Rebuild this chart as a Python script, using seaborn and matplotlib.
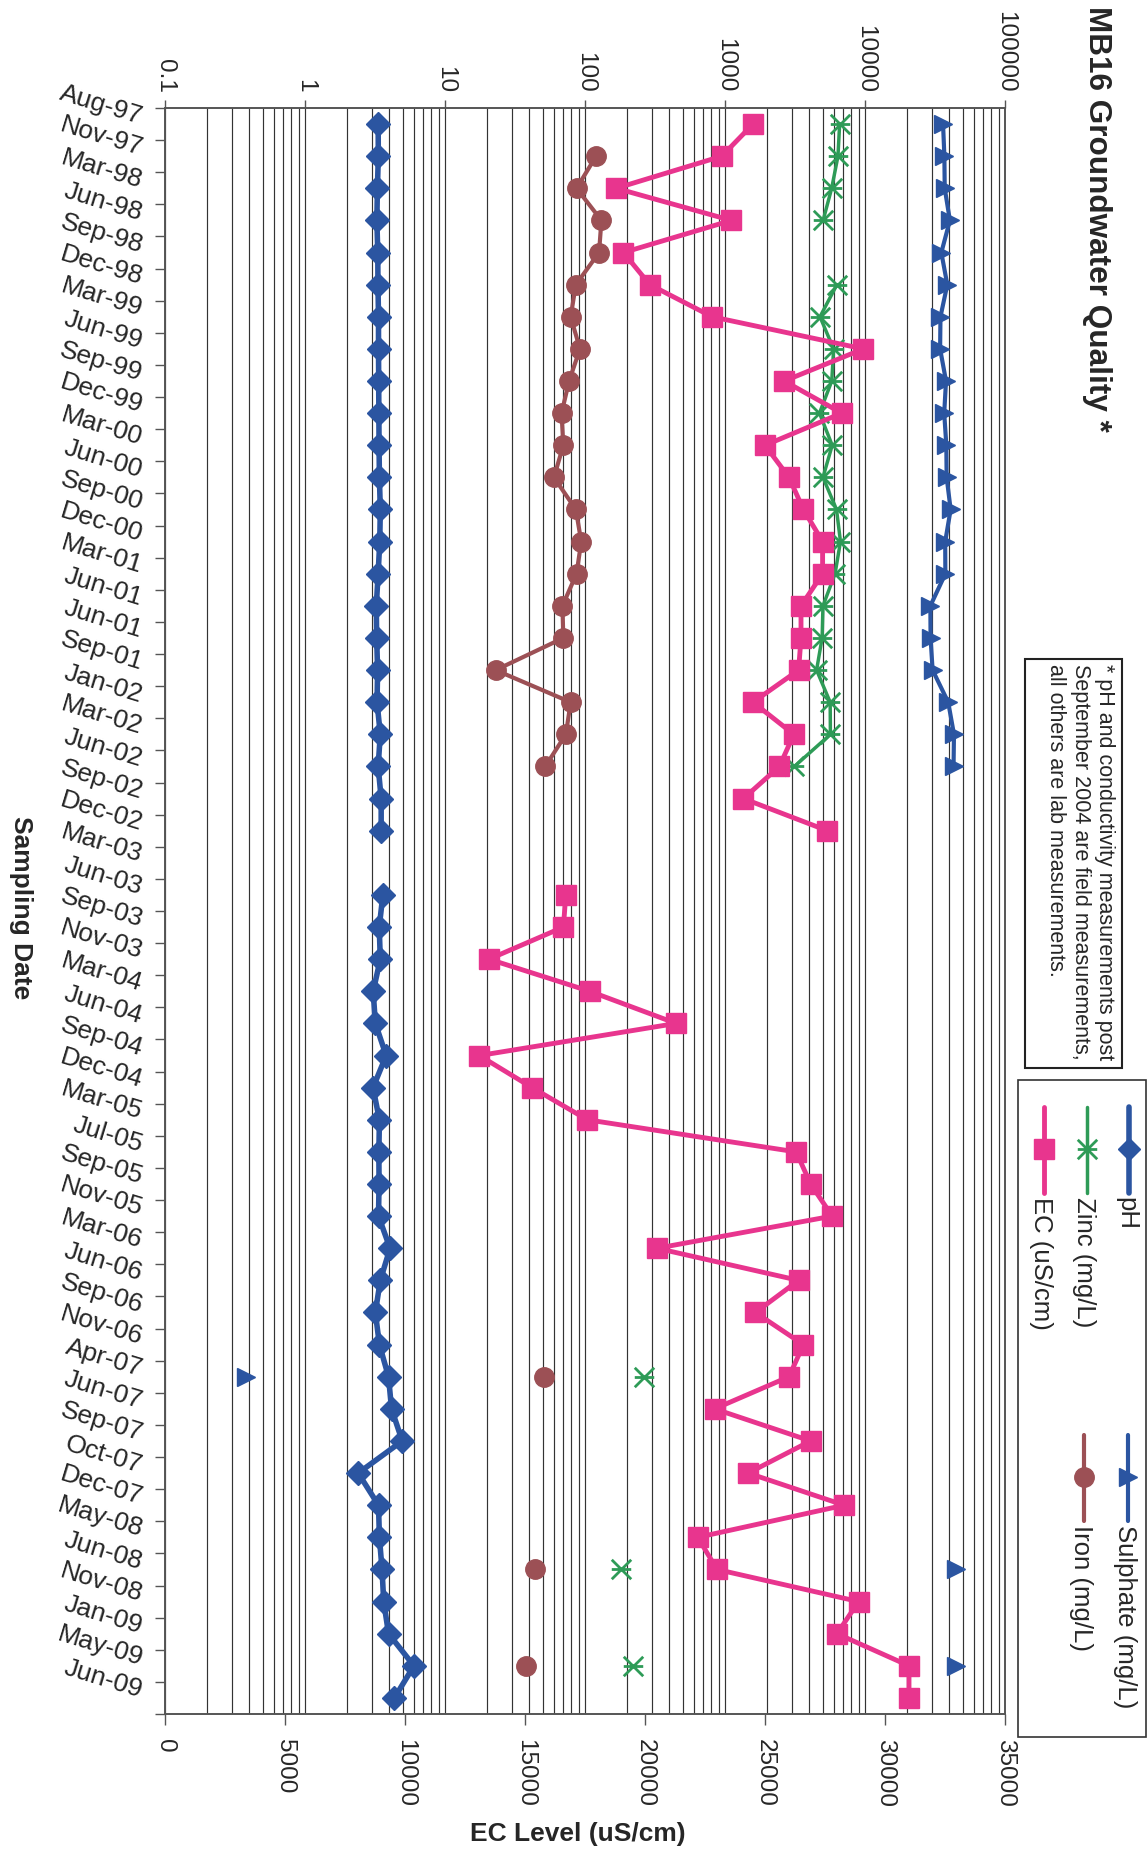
import numpy as np
import pandas as pd
import matplotlib
matplotlib.use("Agg")
import matplotlib.pyplot as plt
import seaborn as sns
from matplotlib.path import Path
from matplotlib.ticker import FixedLocator, FixedFormatter, LogLocator, NullFormatter
from matplotlib.patches import Rectangle

nan = np.nan

sampling_dates = ["Aug-97", "Nov-97", "Mar-98", "Jun-98", "Sep-98", "Dec-98", "Mar-99", "Jun-99",
                  "Sep-99", "Dec-99", "Mar-00", "Jun-00", "Sep-00", "Dec-00", "Mar-01", "Jun-01",
                  "Jun-01", "Sep-01", "Jan-02", "Mar-02", "Jun-02", "Sep-02", "Dec-02", "Mar-03",
                  "Jun-03", "Sep-03", "Nov-03", "Mar-04", "Jun-04", "Sep-04", "Dec-04", "Mar-05",
                  "Jul-05", "Sep-05", "Nov-05", "Mar-06", "Jun-06", "Sep-06", "Nov-06", "Apr-07",
                  "Jun-07", "Sep-07", "Oct-07", "Dec-07", "May-08", "Jun-08", "Nov-08", "Jan-09",
                  "May-09", "Jun-09"]

ph = [3.33, 3.34, 3.29, 3.26, 3.31, 3.32, 3.35, 3.35, 3.36, 3.37, 3.38, 3.40, 3.45, 3.42,
      3.33, 3.23, 3.25, 3.30, 3.27, 3.45, 3.33, 3.50, 3.50, nan, 3.60, 3.39, 3.45, 3.07,
      3.18, 3.80, 3.06, 3.40, 3.37, 3.38, 3.35, 4.05, 3.45, 3.18, 3.40, 3.95, 4.15, 4.95,
      2.40, 3.35, 3.40, 3.55, 3.65, 3.95, 6.0, 4.35]

zinc = [6590, 6410, 5780, 5020, nan, 6300, 4770, 5970, 5790, 4730, 5830, 5010, 6260, 6680,
        6110, 5010, 4940, 4510, 5640, 5660, 3130, nan, nan, nan, nan, nan, nan, nan,
        nan, nan, nan, nan, nan, nan, nan, nan, nan, nan, nan, 265, nan, nan,
        nan, nan, nan, 180, nan, nan, 220, nan]

ec = [24500, 23200, 18800, 23600, 19100, 20200, 22800, 29100, 25800, 28200, 25000, 26000,
      26600, 27400, 27400, 26500, 26500, 26400, 24500, 26200, 25600, 24100, 27600, nan,
      16700, 16600, 13500, 17700, 21300, 13100, 15300, 17600, 26300, 26900, 27800, 20500,
      26400, 24600, 26600, 26000, 22900, 26900, 24300, 28300, 22200, 23000, 28900, 28000,
      31000, 31000]

sulphate = [36100, 36900, 37100, 40400, 35100, 38700, 34600, 34400, 37900, 36800, 38100,
            38300, 40900, 37400, 37500, 29300, 29400, 30400, 39300, 43200, 42900, nan, nan,
            nan, nan, nan, nan, nan, nan, nan, nan, nan, nan, nan, nan, nan, nan, nan, nan,
            0.38, nan, nan, nan, nan, nan, 45000, nan, nan, 45000, nan]

iron = [nan, 120, 87, 131, 126, 86, 79, 92, 77, 68, 70, 60, 86, 94, 87, 69, 70, 23, 79, 73,
        52, nan, nan, nan, nan, nan, nan, nan, nan, nan, nan, nan, nan, nan, nan, nan, nan,
        nan, nan, 51, nan, nan, nan, nan, nan, 44, nan, nan, 38, nan]

log_ticks = [0.1, 1, 10, 100, 1000, 10000, 100000]
log_tick_labels = ["0.1", "1", "10", "100", "1000", "10000", "100000"]
ec_ticks = [0, 5000, 10000, 15000, 20000, 25000, 30000, 35000]

BLUE = "#2B55A1"
GREEN = "#2E9B57"
BROWN = "#9C5055"
PINK = "#E8358E"
GRID = "#333333"
FRAME = "#555555"

sns.set_theme(style="white")
plt.rcParams["font.family"] = ["Liberation Sans", "DejaVu Sans"]

W, H = 1148, 1853
fig = plt.figure(figsize=(W / 100, H / 100), dpi=100)
fig.patch.set_facecolor("white")

L, R, T, B = 165, 1005, 108, 1714
ax = fig.add_axes([L / W, 1 - B / H, (R - L) / W, (B - T) / H])
ax.set_xscale("log")
ax.set_xlim(0.1, 1e5)
ax2 = ax.twiny()
ax2.set_xlim(0, 35000)

asterisk = Path([(-1, -1), (1, 1), (-1, 1), (1, -1), (-1, 0), (1, 0)],
                [Path.MOVETO, Path.LINETO] * 3)


def segments(values):
    df = pd.DataFrame({"pos": np.arange(len(values)), "value": values})
    valid = df["value"].notna()
    df["seg"] = (valid != valid.shift()).cumsum()
    return df[valid]


def draw(axis, values, color, marker, ms, lw, mew=1.0):
    df = segments(values)
    sns.lineplot(data=df, x="value", y="pos", units="seg", estimator=None, sort=False,
                 orient="y", color=color, marker=marker, markersize=ms, linewidth=lw,
                 markeredgecolor=color, markerfacecolor=color, markeredgewidth=mew,
                 ax=axis, legend=False)


draw(ax, ph, BLUE, "D", 12.5, 4.0)
draw(ax, zinc, GREEN, asterisk, 14, 2.5, mew=2.0)
draw(ax, sulphate, BLUE, ">", 13, 3.0)
draw(ax, iron, BROWN, "o", 14, 3.0)
draw(ax2, ec, PINK, "s", 15, 3.5)

for a in (ax, ax2):
    a.set_xlabel("")
    a.set_ylabel("")

ax.set_xlim(0.1, 1e5)
ax2.set_xlim(0, 35000)
ax.set_ylim(len(sampling_dates) - 0.5, -0.5)

# log axis on top
ax.xaxis.tick_top()
ax.xaxis.set_label_position("top")
ax.xaxis.set_major_locator(FixedLocator(log_ticks))
ax.xaxis.set_major_formatter(FixedFormatter(log_tick_labels))
ax.xaxis.set_minor_locator(LogLocator(base=10, subs=np.arange(2, 10), numticks=100))
ax.xaxis.set_minor_formatter(NullFormatter())
ax.tick_params(axis="x", which="major", top=True, bottom=False, labeltop=True,
               labelbottom=False, length=6, width=1, color=FRAME, pad=5,
               labelsize=17.5, labelrotation=-90, direction="out")
ax.tick_params(axis="x", which="minor", length=0, top=False, bottom=False)
ax.grid(True, which="both", axis="x", color=GRID, linewidth=0.85)
ax.grid(False, axis="y")

# EC axis on bottom
ax2.xaxis.tick_bottom()
ax2.xaxis.set_label_position("bottom")
ax2.xaxis.set_major_locator(FixedLocator(ec_ticks))
ax2.tick_params(axis="x", which="major", bottom=True, top=False, labelbottom=True,
                labeltop=False, length=8, width=1, color=FRAME, pad=10,
                labelsize=17.5, labelrotation=-90, direction="out")
ax2.grid(False)

# category axis
ax.set_yticks(np.arange(len(sampling_dates)))
ax.set_yticklabels(sampling_dates, rotation=-17, ha="right", va="baseline",
                   rotation_mode="anchor", fontsize=19)
ax.set_yticks(np.arange(-0.5, len(sampling_dates), 1), minor=True)
ax.tick_params(axis="y", which="major", length=0, pad=18, left=True)
ax.tick_params(axis="y", which="minor", length=7, width=1, color=FRAME, left=True,
               direction="out")

for a in (ax, ax2):
    for sp in a.spines.values():
        sp.set_color(FRAME)
        sp.set_linewidth(1.2)

# overlay for titles, note and legend
ov = fig.add_axes([0, 0, 1, 1], zorder=5)
ov.set_xlim(0, W)
ov.set_ylim(H, 0)
ov.axis("off")

ov.text(1097, 6, "MB16 Groundwater Quality *", rotation=-90, ha="center", va="top",
        fontsize=22.7, fontweight="bold")
ov.text(21, 908, "Sampling Date", rotation=-90, ha="center", va="center",
        fontsize=19, fontweight="bold")
ov.text(578, 1834, "EC Level (uS/cm)", ha="center", va="center", fontsize=19,
        fontweight="bold")

ov.add_patch(Rectangle((1025, 659), 97, 409, fill=False, ec="#222222", lw=1.5))
ov.text(1080, 664, "* pH and conductivity measurements post\n"
                   "September 2004 are field measurements,\n"
                   "all others are lab measurements.",
        rotation=-90, ha="center", va="top", fontsize=15.5, linespacing=1.2,
        multialignment="left")

ov.add_patch(Rectangle((1018, 1080), 128, 657, fill=False, ec="#333333", lw=1.2))

legend_items = [
    ("pH", BLUE, "D", 11, 4.0, 1.0, 1129, 1107),
    ("Zinc (mg/L)", GREEN, asterisk, 14, 2.5, 2.0, 1087, 1107),
    ("EC (uS/cm)", PINK, "s", 14, 3.5, 1.0, 1044, 1107),
    ("Sulphate (mg/L)", BLUE, ">", 13, 3.0, 1.0, 1128, 1435),
    ("Iron (mg/L)", BROWN, "o", 14, 3.0, 1.0, 1084, 1435),
]
for label, color, marker, ms, lw, mew, lx, ly in legend_items:
    ov.plot([lx, lx], [ly, ly + 86], color=color, lw=lw, solid_capstyle="round")
    ov.plot([lx], [ly + 42], marker=marker, ms=ms, color=color, mec=color, mfc=color,
            mew=mew)
    ov.text(lx - 3, ly + 90, label, rotation=-90, ha="center", va="top", fontsize=18.5)

fig.savefig("out.png", dpi=100, facecolor="white")
